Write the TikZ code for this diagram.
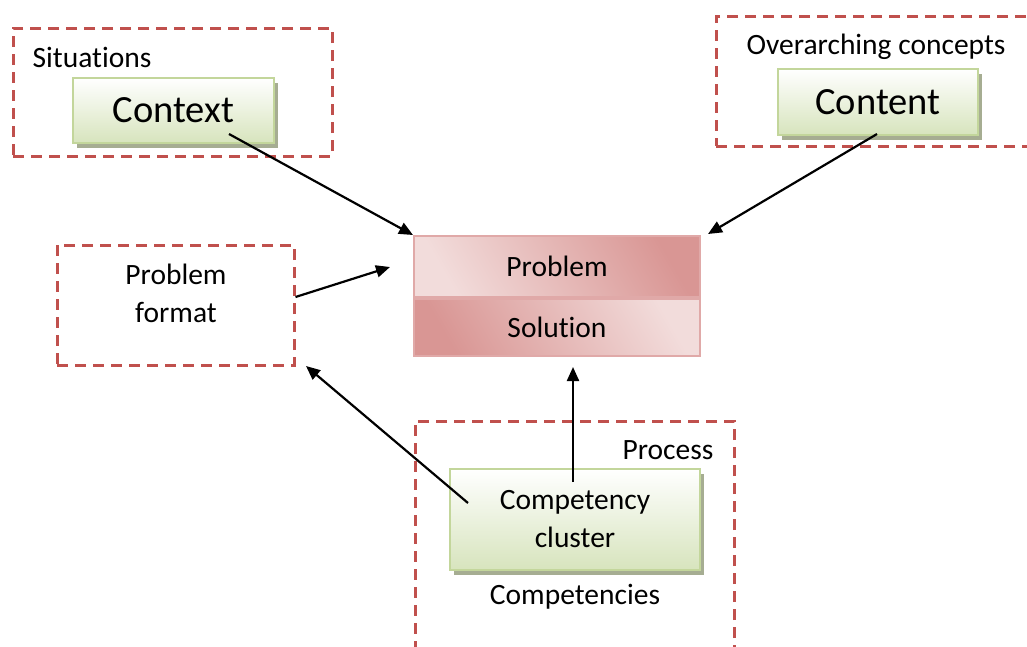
\documentclass[tikz,border=0pt]{standalone}
\usepackage{fontspec}
\setmainfont{Carlito}[Ligatures=NoCommon]
\usepackage{tikz}
\usetikzlibrary{arrows.meta,positioning,calc,shadows}
\definecolor{FrameRed}{HTML}{C0504D}
\definecolor{LeafEdge}{HTML}{C3D69B}
\definecolor{LeafLo}{HTML}{D7E4BD}
\definecolor{LeafShade}{HTML}{A6AD92}
\definecolor{RoseEdge}{HTML}{E0A9A8}
\definecolor{RoseDark}{HTML}{D99694}
\definecolor{RoseLight}{HTML}{F2DCDB}
\newcommand{\tagsize}{\fontsize{29.5}{38}\selectfont}
\newcommand{\bigsize}{\fontsize{38.5}{46}\selectfont}
\tikzset{
  frame/.style={draw=FrameRed,line width=3pt,dash pattern=on 11pt off 7pt,inner sep=0pt},
  leaf/.style={draw=LeafEdge,line width=2pt,top color=white,bottom color=LeafLo,align=center,
    drop shadow={shadow xshift=4pt,shadow yshift=-5pt,fill=LeafShade,opacity=1}},
  cell/.style={draw=RoseEdge,line width=2pt,minimum width=286pt,shading=axis,shading angle=-60,align=center},
  tag/.style={font=\tagsize,align=center,inner sep=0pt},
  link/.style={-{Triangle[length=14pt,width=12pt]},line width=2.2pt,draw=black}
}

\begin{document}
\begin{tikzpicture}[x=1pt,y=-1pt]
  \useasboundingbox (0,0) rectangle (1027,646);
  % dashed groups
  \node[frame,minimum width=319pt,minimum height=128pt] (sitframe) at (172.5,92) {};
  \node[frame,minimum width=324pt,minimum height=130pt] (ovframe) at (878,81) {};
  \node[frame,minimum width=237pt,minimum height=120pt] (pfframe) at (175.5,305) {};
  \node[frame,minimum width=319pt,minimum height=240pt] (procframe) at (574.5,541) {};
  % group titles
  \node[tag] (sitlbl) at (92,57) {Situations};
  \node[tag] (ovlbl) at (876,47) {Overarching concepts};
  \node[tag] (pflbl) at (176,293) {Problem\\format};
  \node[tag] (proclbl) at (668,450) {Process};
  \node[tag] (compslbl) at (575,597) {Competencies};
  % green boxes
  \node[leaf,font=\bigsize,minimum width=201pt,minimum height=65pt] (ctx) at (173.5,110.5) {Context};
  \node[leaf,font=\bigsize,minimum width=200pt,minimum height=66pt] (cnt) at (878,102) {Content};
  \node[leaf,font=\tagsize,minimum width=250pt,minimum height=101pt] (comp) at (575,519.5) {Competency\\cluster};
  % problem / solution block
  \node[cell,font=\tagsize,minimum height=61pt,top color=RoseDark,bottom color=RoseLight,shading angle=-60] (prob) at (557,266.5) {Problem};
  \node[cell,font=\tagsize,minimum height=57pt,top color=RoseLight,bottom color=RoseDark,shading angle=-60,below=0pt of prob] (sol) {Solution};
  % arrow ends
  \coordinate (ctxtail) at (229,134);
  \coordinate (cnttail) at (877,134);
  \coordinate (cnthead) at (708,234);
  \coordinate (pfhead) at (390,267);
  \coordinate (comptop) at (573,482);
  \coordinate (solhead) at (573,367);
  \coordinate (compleft) at (468,503);
  \coordinate (pfcorner) at (306,366);
  \draw[link] (ctxtail) -- (prob.north west);
  \draw[link] (cnttail) -- (cnthead);
  \draw[link] ([yshift=8pt]pfframe.east) -- (pfhead);
  \draw[link] (comptop) -- (solhead);
  \draw[link] (compleft) -- (pfcorner);
\end{tikzpicture}
\end{document}
